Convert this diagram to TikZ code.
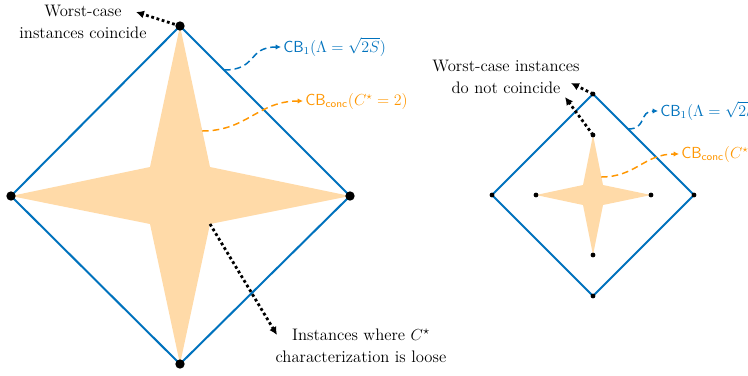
\documentclass[tikz,border=0pt]{standalone}
\usetikzlibrary{arrows.meta}
\definecolor{cbblue}{RGB}{0,114,189}
\definecolor{cborange}{RGB}{255,150,0}
\definecolor{starfill}{RGB}{255,218,168}
\tikzset{
  diam/.style={draw=cbblue, line width=1.5pt, line join=miter},
  starshape/.style={fill=starfill},
  bigdot/.style={circle, fill=black, inner sep=0pt, minimum size=7pt},
  smalldot/.style={circle, fill=black, inner sep=0pt, minimum size=3.6pt},
  dotarrow/.style={dotted, line width=2.1pt, -{Latex[length=6pt,width=6pt]}},
  bluearrow/.style={cbblue, dash pattern=on 5pt off 3pt, line width=1.1pt, -{Latex[length=4pt,width=4pt]}},
  orangearrow/.style={cborange, dash pattern=on 5pt off 3pt, line width=1.1pt, -{Latex[length=4pt,width=4pt]}},
  lbl/.style={font=\fontsize{12.5}{16.5}\selectfont, align=center, inner sep=0pt},
  cblbl/.style={font=\fontsize{12}{14}\selectfont, inner sep=0pt, anchor=west},
}
\begin{document}
\begin{tikzpicture}[x=0.75pt, y=-0.75pt]
\useasboundingbox (0,0) rectangle (748,375);
\clip (0,0) rectangle (748,375);
% ---------- left ----------
\coordinate (LT) at (180,26);
\coordinate (LR) at (350,196);
\coordinate (LB) at (180,364);
\coordinate (LL) at (11,196);
\coordinate (Li1) at (210,167);
\coordinate (Li2) at (210,224);
\coordinate (Li3) at (150,224);
\coordinate (Li4) at (150,167);
\fill[starshape] (LT) -- (Li1) -- (LR) -- (Li2) -- (LB) -- (Li3) -- (LL) -- (Li4) -- cycle;
\draw[diam] (LT) -- (LR) -- (LB) -- (LL) -- cycle;
\node[bigdot] (dLT) at (LT) {};
\node[bigdot] (dLR) at (LR) {};
\node[bigdot] (dLB) at (LB) {};
\node[bigdot] (dLL) at (LL) {};

\node[lbl] (wc1) at (83,22) {Worst-case\\instances coincide};
\coordinate (wc1tip) at (136,12);
\draw[dotarrow] (dLT.center) -- (wc1tip);

\node[lbl] (loose) at (361,346) {Instances where $C^\star$\\characterization is loose};
\coordinate (loosetip) at (277,335);
\draw[dotarrow] (Li2) -- (loosetip);

\coordinate (cb1s) at (224,70);
\node[cblbl, cbblue] (cb1) at (283,47) {\textsf{CB}$_1(\Lambda=\sqrt{2S})$};
\draw[bluearrow] (cb1s) to[out=0, in=180, looseness=1.4] ([xshift=-1.5pt]cb1.west);

\coordinate (cos) at (202,131);
\node[cblbl, cborange] (co) at (305,101) {\textsf{CB}$_{\mathsf{conc}}(C^\star=2)$};
\draw[orangearrow] (cos) to[out=0, in=180, looseness=1.1] ([xshift=-1.5pt]co.west);

% ---------- right ----------
\coordinate (RT) at (593,94);
\coordinate (RR) at (694,195);
\coordinate (RB) at (593,296);
\coordinate (RL) at (492,195);
\coordinate (sT) at (593,135);
\coordinate (sR) at (651,195);
\coordinate (sB) at (593,255);
\coordinate (sL) at (536,195);
\coordinate (Ri1) at (603,185);
\coordinate (Ri2) at (603,205);
\coordinate (Ri3) at (583,205);
\coordinate (Ri4) at (583,185);
\fill[starshape] (sT) -- (Ri1) -- (sR) -- (Ri2) -- (sB) -- (Ri3) -- (sL) -- (Ri4) -- cycle;
\draw[diam] (RT) -- (RR) -- (RB) -- (RL) -- cycle;
\foreach \p in {RT,RR,RB,RL,sT,sR,sB,sL} \node[smalldot] (d\p) at (\p) {};

\node[lbl] (wc2) at (506,77) {Worst-case instances\\do not coincide};
\coordinate (wc2tipA) at (571,83);
\coordinate (wc2tipB) at (565,97);
\draw[dotarrow] (dRT.center) -- (wc2tipA);
\draw[dotarrow] (dsT.center) -- (wc2tipB);

\coordinate (rcb1s) at (628,129);
\node[cblbl, cbblue] (rcb1) at (660,111) {\textsf{CB}$_1(\Lambda=\sqrt{2S})$};
\draw[bluearrow] (rcb1s) to[out=0, in=180, looseness=1.4] ([xshift=-1.5pt]rcb1.west);

\coordinate (rcos) at (601,177);
\node[cblbl, cborange] (rco) at (681,154) {\textsf{CB}$_{\mathsf{conc}}(C^\star=2)$};
\draw[orangearrow] (rcos) to[out=0, in=180, looseness=1.1] ([xshift=-1.5pt]rco.west);
\end{tikzpicture}
\end{document}
